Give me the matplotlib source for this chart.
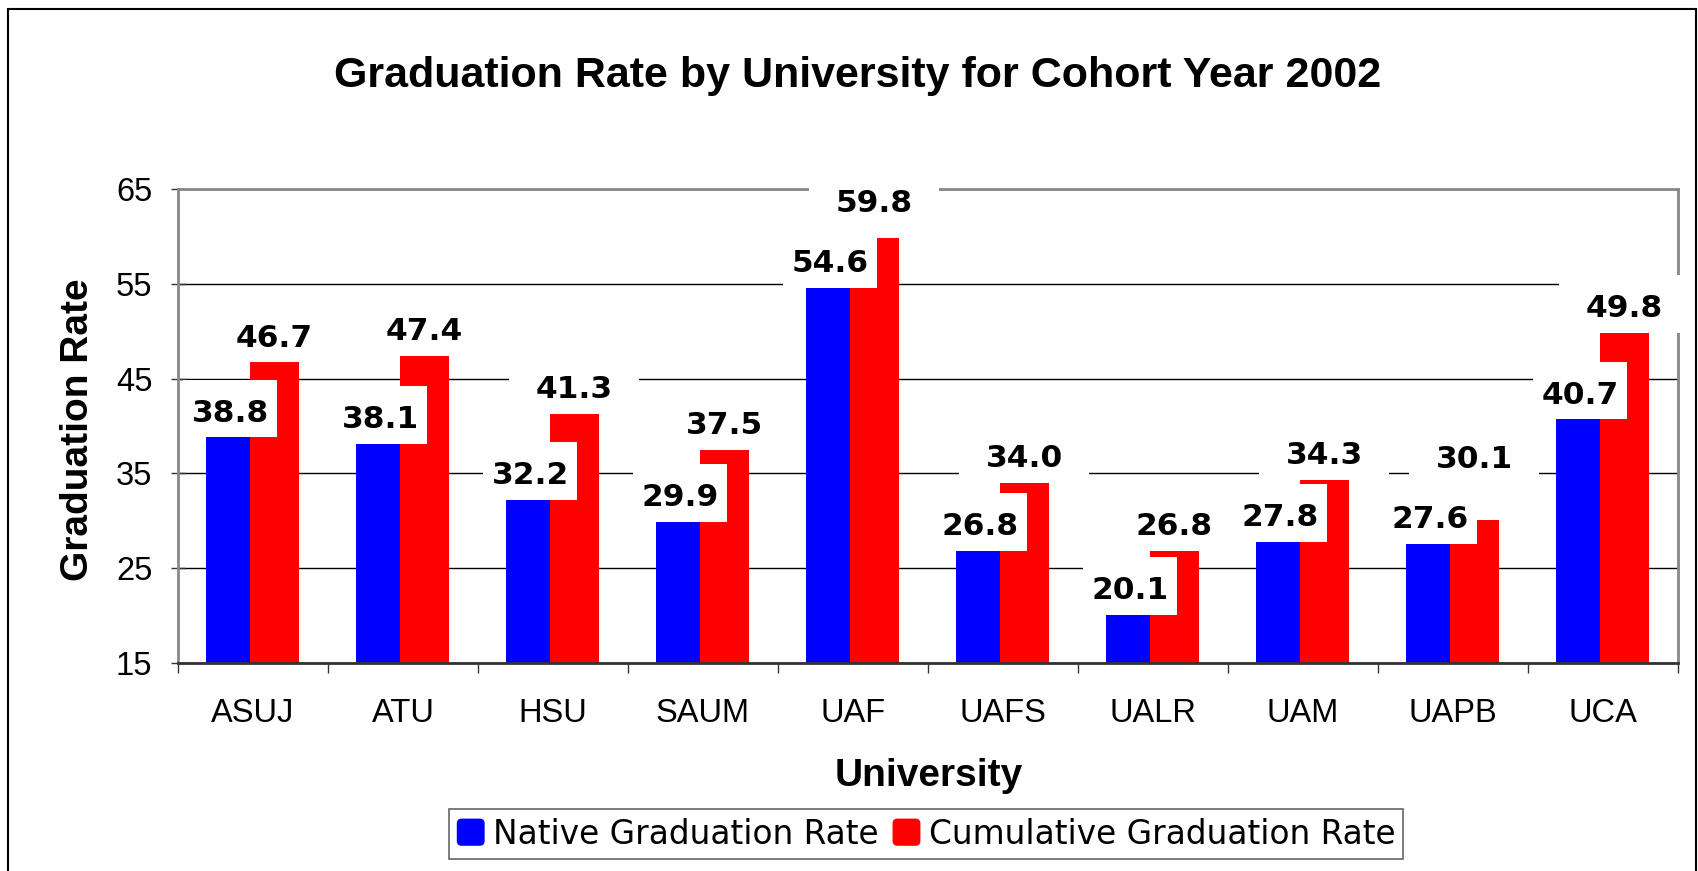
import matplotlib
matplotlib.use("Agg")
import matplotlib.pyplot as plt
import matplotlib.patches as mpatches
from matplotlib.legend_handler import HandlerPatch
from matplotlib.path import Path
import numpy as np

universities = ["ASUJ", "ATU", "HSU", "SAUM", "UAF", "UAFS", "UALR", "UAM", "UAPB", "UCA"]
native_rate = [38.8, 38.1, 32.2, 29.9, 54.6, 26.8, 20.1, 27.8, 27.6, 40.7]
cumulative_rate = [46.7, 47.4, 41.3, 37.5, 59.8, 34.0, 26.8, 34.3, 30.1, 49.8]
y_ticks = [15, 25, 35, 45, 55, 65]

BLUE = "#0000FF"
RED = "#FF0000"


# caja blanca de la etiqueta, con margenes distintos en x, abajo y arriba
def label_box(padx, pad_lo, pad_hi):
    def style(x0, y0, width, height, mutation_size):
        l = x0 - padx * mutation_size
        r = x0 + width + padx * mutation_size
        b = y0 - pad_lo * mutation_size
        t = y0 + height + pad_hi * mutation_size
        return Path([(l, b), (r, b), (r, t), (l, t), (l, b)], closed=True)
    return style


def rounded_handle(legend, orig_handle, xdescent, ydescent, width, height, fontsize):
    return mpatches.FancyBboxPatch((-xdescent, -ydescent), width, height,
                                   boxstyle="round,pad=0,rounding_size=%.2f" % (0.18 * height))


fig = plt.figure(figsize=(16.98, 8.71), dpi=100)
ax = fig.add_axes([178 / 1698, 1 - 663 / 871, 1500 / 1698, 474 / 871])

x = np.arange(len(universities))
blue_w = 0.29
red_w = 0.327
start = -0.5 + 0.187
ax.bar(x + start, native_rate, blue_w, align="edge", color=BLUE, zorder=2)
ax.bar(x + start + blue_w, cumulative_rate, red_w, align="edge", color=RED, zorder=2)

ax.set_xlim(-0.5, len(universities) - 0.5)
ax.set_ylim(15, 65)
ax.set_yticks(y_ticks)
ax.set_yticklabels([str(t) for t in y_ticks], fontsize=23.5, family="Liberation Sans")
ax.set_xticks(x)
ax.set_xticklabels(universities, fontsize=23.5, family="Liberation Sans")
ax.set_xticks(np.arange(len(universities) + 1) - 0.5, minor=True)
ax.tick_params(axis="x", which="major", length=0, pad=25)
ax.tick_params(axis="x", which="minor", length=7, width=1, direction="out", color="#333333")
ax.tick_params(axis="y", length=10, width=1, direction="inout", pad=13.5, color="#333333")

ax.set_axisbelow(True)
ax.yaxis.grid(True, color="black", linewidth=1)

for side in ["left", "top", "right"]:
    ax.spines[side].set_color("#888888")
    ax.spines[side].set_linewidth(2)
ax.spines["bottom"].set_color("#333333")
ax.spines["bottom"].set_linewidth(2)

lab_fs = 22.5
pad_lo, pad_hi = 0.31, 0.61
# alto de la caja de una etiqueta, pasado a unidades del eje y
box_px = (pad_lo + 1.0 + pad_hi) * lab_fs * fig.dpi / 72
px_per_unit = ax.transData.transform((0, 1))[1] - ax.transData.transform((0, 0))[1]
box_units = box_px / px_per_unit

for i in range(len(universities)):
    # las etiquetas de Native van por encima de las de Cumulative
    ax.annotate("%.1f" % native_rate[i], xy=(x[i] + start + blue_w / 2 + 0.015, native_rate[i]),
                xytext=(0, pad_lo * lab_fs), textcoords="offset points",
                ha="center", va="bottom", fontsize=lab_fs, fontweight="bold",
                family="DejaVu Sans", zorder=7, annotation_clip=False,
                bbox=dict(boxstyle=label_box(0.27, pad_lo, pad_hi), facecolor="white", edgecolor="none"))
    # si choca con la caja de Native, la etiqueta sube justo encima de ella
    base = max(cumulative_rate[i], native_rate[i] + box_units)
    ax.annotate("%.1f" % cumulative_rate[i], xy=(x[i] + start + blue_w + red_w / 2, base),
                xytext=(0, pad_lo * lab_fs), textcoords="offset points",
                ha="center", va="bottom", fontsize=lab_fs, fontweight="bold",
                family="DejaVu Sans", zorder=6, annotation_clip=False,
                bbox=dict(boxstyle=label_box(0.85, pad_lo, pad_hi), facecolor="white", edgecolor="none"))

ax.set_ylabel("Graduation Rate", fontsize=28, fontweight="bold", family="Liberation Sans",
              va="baseline", ha="center")
ax.yaxis.set_label_coords(-0.06, 0.4916)
ax.set_xlabel("University", fontsize=28, fontweight="bold", family="Liberation Sans",
              va="baseline")
ax.xaxis.set_label_coords(0.5007, -0.2595)

fig.text(858 / 1698, 1 - 87 / 871, "Graduation Rate by University for Cohort Year 2002",
         ha="center", va="baseline", fontsize=31, fontweight="bold", family="Liberation Sans")

handles = [mpatches.Patch(facecolor=BLUE, label="Native Graduation Rate"),
           mpatches.Patch(facecolor=RED, label="Cumulative Graduation Rate")]
leg = fig.legend(handles=handles, loc="center", bbox_to_anchor=(926 / 1698, 1 - 834 / 871),
                 ncol=2, frameon=True, fancybox=False, shadow=False,
                 prop={"family": "DejaVu Sans", "size": 23.6},
                 handlelength=0.85, handleheight=0.9, handletextpad=0.25,
                 columnspacing=0.43, borderpad=0.25, borderaxespad=0,
                 handler_map={mpatches.Patch: HandlerPatch(patch_func=rounded_handle)})
leg.get_frame().set_edgecolor("#404040")
leg.get_frame().set_linewidth(1.2)

# marco exterior del grafico
fig.patches.append(mpatches.Rectangle((8 / 1698, -0.1), (1696 - 8) / 1698, 1.1 - 9 / 871,
                                      transform=fig.transFigure, fill=False,
                                      edgecolor="black", linewidth=1.5))

fig.savefig("out.png", dpi=100)
